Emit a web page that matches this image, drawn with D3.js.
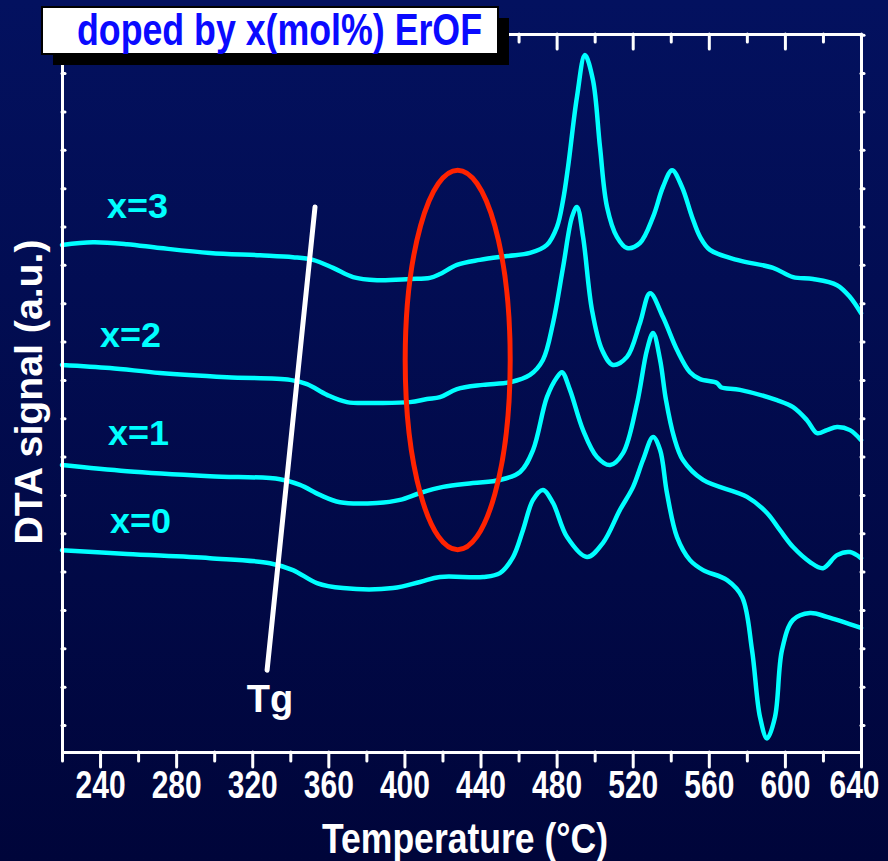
<!DOCTYPE html>
<html><head><meta charset="utf-8">
<script src="https://cdn.jsdelivr.net/npm/d3@7"></script>
<style>html,body{margin:0;padding:0;background:#00053a;} svg{display:block}</style>
</head><body>
<svg id="chart" width="888" height="861"></svg>
<script>
// ---------- data ----------
const xMajorTicks = [240,280,320,360,400,440,480,520,560,600,640];
const xMinorTicks = [220,260,300,340,380,420,460,500,540,580,620];
const yTicks = [0,1,2,3,4,5,6,7,8,9,10,11,12,13,14,15,16,17,18];
const seriesNames = ["x=3","x=2","x=1","x=0"];
const titleText = "doped by x(mol%) ErOF";
const xLabel = "Temperature (°C)";
const yLabel = "DTA signal (a.u.)";

// [temperature °C, DTA signal a.u.]
const dtaX3 = [[220,12.52],[236.3,12.59],[254.2,12.54],[271.5,12.44],[297.8,12.31],[324.1,12.25],[341.4,12.20],
  [351.9,12.13],[362.5,11.92],[373.0,11.68],[385.6,11.60],[402.9,11.63],[413.4,11.66],[418.7,11.76],[427.6,12.00],
  [439.7,12.13],[453.9,12.23],[466.0,12.31],[474.9,12.52],[480.2,12.99],[483.4,13.69],[486.0,14.55],[490.7,16.38],
  [494.9,17.47],[499.1,16.82],[502.8,15.07],[506.5,13.51],[511.7,12.73],[517.0,12.44],[523.8,12.57],[530.7,13.25],
  [535.9,14.03],[540.7,14.47],[545.9,14.03],[551.2,13.25],[555.4,12.73],[560.6,12.39],[574.8,12.13],[593.8,11.92],
  [604.3,11.68],[614.8,11.63],[627.4,11.47],[634.2,11.16],[640,10.74]];
const dtaX2 = [[220,9.39],[245.2,9.31],[271.5,9.18],[306.7,9.07],[339.9,9.00],[348.8,8.89],[359.3,8.61],[369.8,8.42],
  [385.6,8.40],[402.9,8.42],[411.9,8.50],[418.7,8.55],[427.6,8.76],[441.3,8.87],[455.5,8.94],[466.0,9.13],[472.8,9.52],
  [478.1,10.48],[483.4,11.94],[488.1,13.25],[490.7,13.51],[493.9,12.73],[498.6,10.82],[503.9,9.78],[509.6,9.39],
  [517.0,9.60],[523.8,10.48],[529.1,11.26],[535.9,10.64],[543.3,9.78],[550.1,9.20],[555.4,9.02],[564.3,8.92],
  [566.4,8.81],[576.4,8.74],[595.8,8.47],[604.3,8.29],[611.6,7.95],[616.9,7.61],[622.1,7.69],[627.4,7.77],
  [634.2,7.69],[640,7.43]];
const dtaX1 = [[220,6.78],[254.2,6.62],[297.8,6.49],[334.6,6.41],[345.1,6.26],[355.6,6.00],[366.1,5.81],[385.6,5.79],
  [397.7,5.87],[408.2,6.05],[420.3,6.21],[436.0,6.31],[450.2,6.39],[460.8,6.60],[467.6,7.17],[474.9,8.55],[480.2,9.07],
  [482.8,9.20],[487.0,8.74],[493.9,7.69],[501.2,6.99],[508.1,6.78],[514.9,7.09],[522.3,8.40],[527.5,9.78],[530.7,10.22],
  [534.4,9.52],[537.5,8.47],[541.7,7.51],[546.4,6.91],[557.0,6.39],[580.1,5.95],[590.6,5.53],[597.4,5.08],[604.3,4.64],
  [613.2,4.25],[620.0,4.09],[627.4,4.43],[634.2,4.51],[640,4.35]];
const dtaX0 = [[220,4.56],[254.2,4.46],[297.8,4.35],[329.3,4.22],[341.4,4.04],[354.0,3.70],[367.7,3.57],[394.0,3.57],
  [408.2,3.73],[418.7,3.86],[441.3,3.86],[450.2,3.96],[457.1,4.38],[462.3,5.08],[467.6,5.87],[472.8,6.13],[478.1,5.79],
  [485.5,4.90],[496.0,4.38],[504.4,4.75],[513.3,5.61],[520.2,6.21],[525.4,6.91],[530.7,7.51],[534.4,7.17],[538.0,6.05],
  [543.3,4.90],[550.1,4.30],[557.0,4.04],[569.6,3.78],[577.5,3.34],[582.7,1.96],[586.9,0.21],[590.6,-0.35],[594.8,0.21],
  [598.5,1.96],[604.3,2.74],[613.2,2.92],[622.1,2.82],[640,2.53]];
const allSeries = [dtaX3, dtaX2, dtaX1, dtaX0];

// ---------- layout ----------
const svg = d3.select("#chart");
const L = 62, R = 861, T = 34, B = 752;
const x = d3.scaleLinear().domain([220, 640]).range([L, R]);
const y = d3.scaleLinear().domain([-0.704, 18.02]).range([B, T]);

const defs = svg.append("defs");
const grad = defs.append("linearGradient").attr("id","bg").attr("x1",0).attr("y1",0).attr("x2",0).attr("y2",1);
grad.append("stop").attr("offset","0%").attr("stop-color","#03115f");
grad.append("stop").attr("offset","100%").attr("stop-color","#00053a");
svg.append("rect").attr("width",888).attr("height",861).attr("fill","url(#bg)");

const narrow = "'Liberation Sans Narrow','Arial Narrow','Liberation Sans',Arial,sans-serif";
const sans = "'Liberation Sans',Arial,sans-serif";

// curves
const line = d3.line().x(d => x(d[0])).y(d => y(d[1])).curve(d3.curveCatmullRom.alpha(0.5));
svg.append("g").selectAll("path").data(allSeries).join("path")
  .attr("d", line).attr("fill","none").attr("stroke","#00ffff").attr("stroke-width",4.5)
  .attr("stroke-linejoin","round").attr("stroke-linecap","round");

// axes
function styleAxis(g){
  g.selectAll(".domain").attr("stroke","#ffffff").attr("stroke-width",3);
  g.selectAll(".tick line").attr("stroke","#ffffff").attr("stroke-width",3).attr("stroke-linecap","round");
}
const axB = svg.append("g").attr("transform",`translate(0,${B})`)
  .call(d3.axisBottom(x).tickValues(xMajorTicks).tickSizeInner(15).tickSizeOuter(0).tickPadding(3).tickFormat(d3.format("d")));
styleAxis(axB);
axB.selectAll("text").attr("fill","#ffffff").attr("font-family",narrow).attr("font-weight","bold")
  .attr("font-size",39).attr("textLength",50).attr("lengthAdjust","spacingAndGlyphs");
axB.selectAll(".tick").filter(d => d === 640).select("text").attr("dx",-7);
const axBm = svg.append("g").attr("transform",`translate(0,${B})`)
  .call(d3.axisBottom(x).tickValues(xMinorTicks).tickSizeInner(9).tickSizeOuter(0).tickFormat(""));
styleAxis(axBm);
const axT = svg.append("g").attr("transform",`translate(0,${T})`)
  .call(d3.axisTop(x).tickValues(xMajorTicks).tickSizeInner(-15).tickSizeOuter(0).tickFormat(""));
styleAxis(axT);
const axTm = svg.append("g").attr("transform",`translate(0,${T})`)
  .call(d3.axisTop(x).tickValues(xMinorTicks).tickSizeInner(-8).tickSizeOuter(0).tickFormat(""));
styleAxis(axTm);
const axL = svg.append("g").attr("transform",`translate(${L},0)`)
  .call(d3.axisLeft(y).tickValues(yTicks).tickSizeInner(-3).tickSizeOuter(0).tickFormat(""));
styleAxis(axL);
const axR = svg.append("g").attr("transform",`translate(${R},0)`)
  .call(d3.axisRight(y).tickValues(yTicks).tickSizeInner(3).tickSizeOuter(0).tickFormat(""));
styleAxis(axR);

// series labels
const labelPos = [[243.7,13.22],[240.0,9.86],[244.2,7.30],[245.2,5.01]];
svg.append("g").selectAll("text").data(seriesNames).join("text")
  .attr("x",(d,i)=>x(labelPos[i][0])).attr("y",(d,i)=>y(labelPos[i][1]))
  .attr("fill","#00ffff").attr("font-family",sans).attr("font-weight","bold").attr("font-size",35)
  .attr("textLength",61).attr("lengthAdjust","spacingAndGlyphs").text(d=>d);

// red ellipse
svg.append("ellipse").attr("cx",x(428)).attr("cy",y(9.52))
  .attr("rx",x(455.6)-x(428)).attr("ry",y(4.57)-y(9.52))
  .attr("fill","none").attr("stroke","#ff2200").attr("stroke-width",5);

// Tg line
svg.append("path").attr("d", d3.line().x(d=>x(d[0])).y(d=>y(d[1]))([[353,13.51],[327.8,1.43]]))
  .attr("stroke","#ffffff").attr("stroke-width",5).attr("stroke-linecap","round").attr("fill","none");
svg.append("text").attr("x",x(329.3)).attr("y",y(0.34)).attr("text-anchor","middle")
  .attr("fill","#ffffff").attr("font-family",sans).attr("font-weight","bold").attr("font-size",38).text("Tg");

// axis titles
svg.append("text").attr("x",465).attr("y",853).attr("text-anchor","middle")
  .attr("fill","#ffffff").attr("font-family",narrow).attr("font-weight","bold").attr("font-size",42)
  .attr("textLength",286).attr("lengthAdjust","spacingAndGlyphs").text(xLabel);
svg.append("text").attr("transform","translate(42,392) rotate(-90)").attr("text-anchor","middle")
  .attr("fill","#ffffff").attr("font-family",sans).attr("font-weight","bold").attr("font-size",39)
  .attr("textLength",305).attr("lengthAdjust","spacingAndGlyphs").text(yLabel);

// title box
svg.append("rect").attr("x",53).attr("y",18).attr("width",456).attr("height",47).attr("fill","#000000");
svg.append("rect").attr("x",42).attr("y",7).attr("width",456).attr("height",47)
  .attr("fill","#ffffff").attr("stroke","#000000").attr("stroke-width",2);
svg.append("text").attr("x",77).attr("y",45)
  .attr("fill","#0a0aff").attr("font-family",narrow).attr("font-weight","bold").attr("font-size",44)
  .attr("textLength",405).attr("lengthAdjust","spacingAndGlyphs").text(titleText);
</script>
</body></html>
